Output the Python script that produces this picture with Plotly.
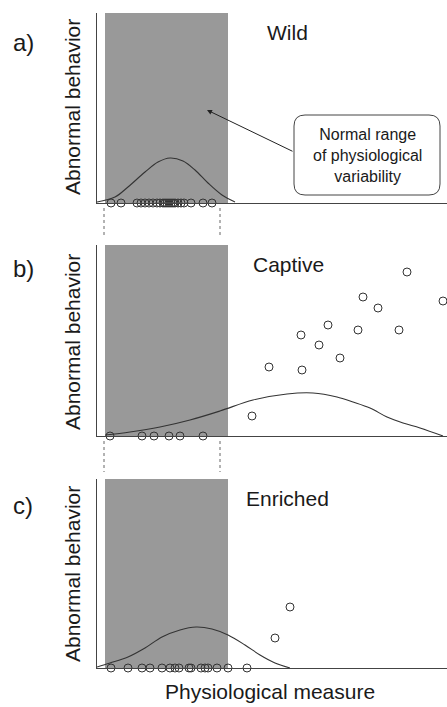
import plotly.graph_objects as go

W, H = 447, 707

# ---------------- data (pixel-like units) ----------------
# Panel a) Wild
a_base_x = [111, 121, 137, 141, 145, 149, 153, 157, 160, 163, 165, 167, 169, 171,
            173, 175, 178, 181, 184, 191, 203, 212]
a_curve_x = [97, 115, 128, 145, 158, 170, 183, 195, 208, 222, 235]
a_curve_h = [1, 6, 16, 31, 41, 45, 42, 33, 20, 8, 1]

# Panel b) Captive
b_base_x = [110, 142, 154, 169, 180, 203]
b_pts_x = [252, 269, 302, 301, 319, 328, 340, 358, 363, 378, 399, 407, 443]
b_pts_h = [20, 69, 66, 101, 91, 111, 78, 106, 139, 128, 106, 164, 135]
b_curve_x = [105, 130, 160, 190, 220, 253, 287, 313, 337, 353, 370, 387, 403, 420, 443]
b_curve_h = [1, 4, 9, 16, 25, 36, 42, 43, 39, 34, 28, 19, 13, 8, 0]

# Panel c) Enriched
c_base_x = [111, 128, 142, 150, 162, 170, 175, 179, 189, 191, 201, 205, 208, 217, 228, 247]
c_pts_x = [275, 290]
c_pts_h = [30, 61]
c_curve_x = [97, 110, 128, 145, 162, 180, 196, 212, 228, 245, 260, 275, 290]
c_curve_h = [1, 5, 11, 20, 31, 38, 41, 39, 33, 23, 13, 5, 0]

panel_labels = ["a)", "b)", "c)"]
group_labels = ["Wild", "Captive", "Enriched"]
y_title = "Abnormal behavior"
x_title = "Physiological measure"
box_text = "Normal range<br>of physiological<br>variability"
normal_range = [105, 228]

# ---------------- layout geometry ----------------
X0, X1 = 97, 447
panels = [  # (top px, baseline px)
    (13, 203),
    (245, 436),
    (479, 668),
]
FONT = "Liberation Sans, Arial, sans-serif"
TXT = "#1a1a1a"
LINE = "#333333"


def px(x):
    return x / W


def py(y):
    return 1 - y / H


fig = go.Figure()

data = [
    (a_base_x, [], [], a_curve_x, a_curve_h),
    (b_base_x, b_pts_x, b_pts_h, b_curve_x, b_curve_h),
    (c_base_x, c_pts_x, c_pts_h, c_curve_x, c_curve_h),
]

marker = dict(symbol="circle-open", size=8, color=LINE, line=dict(width=1, color=LINE))

for i, ((top, base), (bx, sx, sh, cx, ch)) in enumerate(zip(panels, data)):
    n = "" if i == 0 else str(i + 1)
    xa, ya = "x" + n, "y" + n
    fig.add_trace(go.Scatter(x=cx, y=ch, mode="lines", line=dict(color=LINE, width=1.1, shape="spline"),
                             xaxis=xa, yaxis=ya, hoverinfo="skip", showlegend=False, cliponaxis=False))
    fig.add_trace(go.Scatter(x=bx, y=[0] * len(bx), mode="markers", marker=marker,
                             xaxis=xa, yaxis=ya, showlegend=False, cliponaxis=False))
    if sx:
        fig.add_trace(go.Scatter(x=sx, y=sh, mode="markers", marker=marker,
                                 xaxis=xa, yaxis=ya, showlegend=False, cliponaxis=False))
    axcommon = dict(showgrid=False, zeroline=False, showticklabels=False, ticks="",
                    showline=True, linecolor="#444444", linewidth=1.2)
    fig.update_layout(**{
        ("xaxis" + n): dict(domain=[px(X0), 1], range=[X0, X1], anchor=ya, **axcommon),
        ("yaxis" + n): dict(domain=[py(base), py(top)], range=[0, base - top], anchor=xa, **axcommon),
    })
    # grey normal range
    fig.add_shape(type="rect", xref=xa, yref=ya, x0=normal_range[0], x1=normal_range[1],
                  y0=0, y1=base - top, fillcolor="#999999", line=dict(width=0), layer="below")
    # labels
    fig.add_annotation(text=panel_labels[i], xref="paper", yref="paper", x=px(23),
                       y=py([42, 268, 505][i]), showarrow=False,
                       font=dict(family=FONT, size=24, color=TXT), xanchor="center", yanchor="middle")
    fig.add_annotation(text=group_labels[i], xref="paper", yref="paper", x=px([287, 288, 287][i]),
                       y=py([32, 265, 498][i]), showarrow=False,
                       font=dict(family=FONT, size=21, color=TXT), xanchor="center", yanchor="middle")
    fig.add_annotation(text=y_title, xref="paper", yref="paper", x=px(72),
                       y=py([107, 342, 574][i]), showarrow=False, textangle=-90,
                       font=dict(family=FONT, size=21, color=TXT), xanchor="center", yanchor="middle")

# x title
fig.add_annotation(text=x_title, xref="paper", yref="paper", x=px(270), y=py(691), showarrow=False,
                   font=dict(family=FONT, size=21, color=TXT), xanchor="center", yanchor="middle")

# dashed connectors between panels
for (y0, y1) in [(208, 238), (441, 472)]:
    for xx in [104, 220]:
        fig.add_shape(type="line", xref="paper", yref="paper", x0=px(xx), x1=px(xx),
                      y0=py(y0), y1=py(y1), line=dict(color="#666666", width=1, dash="3px,3px"))

# rounded callout box
bx0, bx1, by0, by1, r = 294, 440, 115, 195, 11
path = (f"M {px(bx0 + r)},{py(by0)} L {px(bx1 - r)},{py(by0)} "
        f"Q {px(bx1)},{py(by0)} {px(bx1)},{py(by0 + r)} L {px(bx1)},{py(by1 - r)} "
        f"Q {px(bx1)},{py(by1)} {px(bx1 - r)},{py(by1)} L {px(bx0 + r)},{py(by1)} "
        f"Q {px(bx0)},{py(by1)} {px(bx0)},{py(by1 - r)} L {px(bx0)},{py(by0 + r)} "
        f"Q {px(bx0)},{py(by0)} {px(bx0 + r)},{py(by0)} Z")
fig.add_shape(type="path", xref="paper", yref="paper", path=path,
              line=dict(color="#444444", width=1), fillcolor="white")
fig.add_annotation(text=box_text, xref="paper", yref="paper", x=px(367), y=py(155), showarrow=False,
                   font=dict(family=FONT, size=16, color=TXT), xanchor="center", yanchor="middle",
                   align="center")
# arrow
fig.add_annotation(text="", xref="paper", yref="paper", x=px(207), y=py(110),
                   ax=87, ay=42, axref="pixel", ayref="pixel", showarrow=True,
                   arrowhead=2, arrowsize=1, arrowwidth=1, arrowcolor="#222222")

fig.update_layout(width=W, height=H, margin=dict(l=0, r=0, t=0, b=0),
                  paper_bgcolor="white", plot_bgcolor="white", showlegend=False)

fig.write_html("out.html", config={"displayModeBar": False},
               post_script="document.body.style.margin='0';document.body.style.overflow='hidden';")
